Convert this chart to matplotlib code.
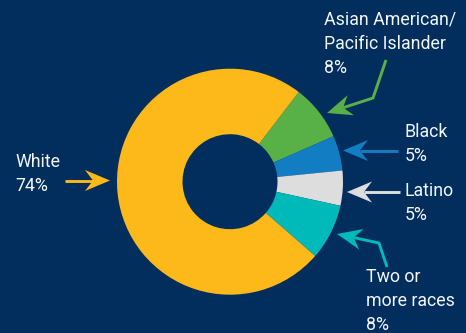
import matplotlib
matplotlib.use("Agg")
import matplotlib.pyplot as plt
import numpy as np
from matplotlib.patches import Polygon

# data (clockwise from the top-right)
groups = ["Asian American/\nPacific Islander", "Black", "Latino",
          "Two or\nmore races", "White"]
shares = [8, 5, 5, 8, 74]
colors = ["#58B147", "#127DC2", "#DDDDDD", "#00B9B9", "#FDB81A"]

BG = "#022E5E"
TXT = "#F3F5F8"
W, H = 466, 333

plt.rcParams["font.family"] = ["Roboto", "DejaVu Sans"]

fig = plt.figure(figsize=(W / 100, H / 100), dpi=100, facecolor=BG)
ax = fig.add_axes([0, 0, 1, 1])
ax.set_facecolor(BG)

# donut, pixel units, y measured up from the bottom
cx, cy, r_out, r_in = 230, H - 181.7, 113, 47.5
ax.pie(shares, colors=colors, startangle=52.5, counterclock=False,
       center=(cx, cy), radius=r_out,
       wedgeprops=dict(width=r_out - r_in, linewidth=0))

ax.set_xlim(0, W)
ax.set_ylim(0, H)
ax.set_aspect("auto")
ax.axis("off")


def arrow(points, color):
    """polyline in screen px (y down) ending in a notched arrowhead"""
    pts = np.array([(x, H - y) for x, y in points], dtype=float)
    tip = pts[-1]
    d = tip - pts[-2]
    d /= np.hypot(*d)
    n = np.array([-d[1], d[0]])
    L, Wd, N = 25, 10.5, 17
    line = np.vstack([pts[:-1], tip - N * d])
    ax.plot(line[:, 0], line[:, 1], color=color, lw=2.1,
            solid_capstyle="butt", solid_joinstyle="miter")
    head = [tip, tip - L * d + Wd * n, tip - N * d, tip - L * d - Wd * n]
    ax.add_patch(Polygon(head, closed=True, color=color, lw=0))


label_pos = [(324, 11), (405, 123), (405, 182), (366, 268), (15, 153)]
arrows = [
    [(386, 60), (373, 98), (327, 113)],
    [(398, 150.5), (343, 150.5)],
    [(400, 192), (347, 192)],
    [(387, 267), (379, 243), (337, 234)],
    [(65, 180.5), (110, 180.5)],
]

for g, s, c, (tx, ty), ar in zip(groups, shares, colors, label_pos, arrows):
    ax.text(tx, H - ty, f"{g}\n{s}%", color=TXT, fontsize=12.8,
            ha="left", va="top", linespacing=1.42)
    arrow(ar, c)

fig.savefig("out.png", dpi=100, facecolor=BG)
